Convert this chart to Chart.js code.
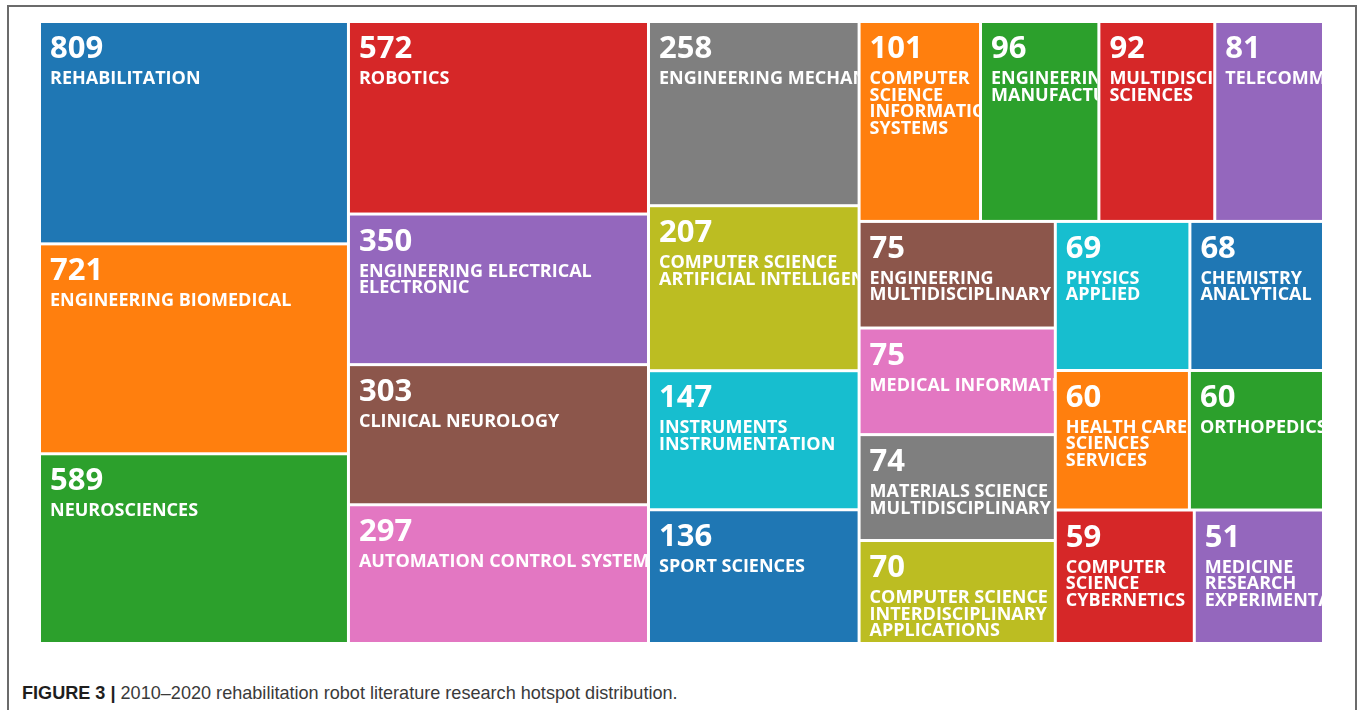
<!DOCTYPE html>
<html lang="en">
<head>
<meta charset="UTF-8">
<title>Rehabilitation robot research hotspots</title>
<script src="https://cdn.jsdelivr.net/npm/chart.js"></script>
<style>
  body { margin: 0; background: #ffffff; }
  .frame { position: relative; width: 1357px; height: 710px; overflow: hidden; }
  .border { position: absolute; left: 7px; top: 5px; width: 1346px; height: 760px; border: 2px solid #6b6b6b; }
  #wrap { position: absolute; left: 0; top: 0; width: 1357px; height: 660px; }
  .caption {
    position: absolute; left: 22px; top: 683px;
    font-family: 'Liberation Sans', Arial, sans-serif;
    font-size: 19px; line-height: 19px; color: #3a3a3a; white-space: nowrap;
    transform: scaleX(0.952); transform-origin: left top;
  }
  .caption b { color: #1e1e1e; }
</style>
</head>
<body>
<div class="frame">
  <div class="border"></div>
  <div id="wrap"><canvas id="treemap" width="1357" height="660"></canvas></div>
  <div class="caption"><b>FIGURE 3 |</b> 2010–2020 rehabilitation robot literature research hotspot distribution.</div>
</div>

<script>
  // Web of Science categories, label lines as they wrap in the figure
  const categories = [
    ['REHABILITATION'],
    ['ENGINEERING BIOMEDICAL'],
    ['NEUROSCIENCES'],
    ['ROBOTICS'],
    ['ENGINEERING ELECTRICAL', 'ELECTRONIC'],
    ['CLINICAL NEUROLOGY'],
    ['AUTOMATION CONTROL SYSTEMS'],
    ['ENGINEERING MECHANICAL'],
    ['COMPUTER SCIENCE', 'ARTIFICIAL INTELLIGENCE'],
    ['INSTRUMENTS', 'INSTRUMENTATION'],
    ['SPORT SCIENCES'],
    ['COMPUTER', 'SCIENCE', 'INFORMATION', 'SYSTEMS'],
    ['ENGINEERING', 'MANUFACTURING'],
    ['MULTIDISCIPLINARY', 'SCIENCES'],
    ['TELECOMMUNICATIONS'],
    ['ENGINEERING', 'MULTIDISCIPLINARY'],
    ['MEDICAL INFORMATICS'],
    ['MATERIALS SCIENCE', 'MULTIDISCIPLINARY'],
    ['COMPUTER SCIENCE', 'INTERDISCIPLINARY', 'APPLICATIONS'],
    ['PHYSICS', 'APPLIED'],
    ['CHEMISTRY', 'ANALYTICAL'],
    ['HEALTH CARE', 'SCIENCES', 'SERVICES'],
    ['ORTHOPEDICS'],
    ['COMPUTER', 'SCIENCE', 'CYBERNETICS'],
    ['MEDICINE', 'RESEARCH', 'EXPERIMENTAL']
  ];
  const counts = [809, 721, 589, 572, 350, 303, 297, 258, 207, 147, 136,
                  101, 96, 92, 81, 75, 75, 74, 70, 69, 68, 60, 60, 59, 51];
  const palette = ['#1f77b4', '#ff7f0e', '#2ca02c', '#d62728', '#9467bd',
                   '#8c564b', '#e377c2', '#7f7f7f', '#bcbd22', '#17becf'];

  // how the tiles are grouped: 'h' = side by side, 'v' = stacked (numbers are indexes)
  const tileGroups = ['h',
    ['v', 0, 1, 2],
    ['v', 3, 4, 5, 6],
    ['v', 7, 8, 9, 10],
    ['v',
      ['h', 11, 12, 13, 14],
      ['h',
        ['v', 15, 16, 17, 18],
        ['v', ['h', 19, 20], ['h', 21, 22], ['h', 23, 24]]]]];

  // the figure does not size tiles linearly; square root of the count is close
  function tileWeight(node) {
    if (typeof node === 'number') return Math.sqrt(counts[node]);
    return node.slice(1).reduce((s, n) => s + tileWeight(n), 0);
  }

  function layout(node, x0, y0, x1, y1, out) {
    if (typeof node === 'number') {
      out[node] = { x0, y0, x1, y1 };
      return out;
    }
    const dir = node[0];
    const total = tileWeight(node);
    let pos = dir === 'h' ? x0 : y0;
    node.slice(1).forEach(k => {
      const span = (dir === 'h' ? x1 - x0 : y1 - y0) * tileWeight(k) / total;
      if (dir === 'h') layout(k, pos, y0, pos + span, y1, out);
      else layout(k, x0, pos, x1, pos + span, out);
      pos += span;
    });
    return out;
  }

  const tiles = layout(tileGroups, 0, 0, 1, 1, []);

  const treemapTiles = {
    id: 'treemapTiles',
    beforeDatasetsDraw(chart) {
      const { ctx, scales: { x, y } } = chart;
      tiles.forEach((t, i) => {
        const left = x.getPixelForValue(t.x0) + 1.5;
        const right = x.getPixelForValue(t.x1) - 1.5;
        const top = y.getPixelForValue(t.y0) + 1.5;
        const bottom = y.getPixelForValue(t.y1) - 1.5;
        ctx.save();
        ctx.fillStyle = palette[i % palette.length];
        ctx.fillRect(left, top, right - left, bottom - top);
        ctx.beginPath();
        ctx.rect(left, top, right - left, bottom - top);
        ctx.clip();
        ctx.fillStyle = '#ffffff';
        ctx.textBaseline = 'alphabetic';
        ctx.font = '700 31px "Open Sans"';
        ctx.fillText(String(counts[i]), left + 9, top + 35);
        ctx.font = '700 18px "Open Sans"';
        categories[i].forEach((line, j) => {
          ctx.fillText(line, left + 9, top + 61 + j * 16.5);
        });
        ctx.restore();
      });
    }
  };

  new Chart(document.getElementById('treemap'), {
    type: 'scatter',
    data: {
      datasets: [{
        label: 'Publications',
        data: tiles.map((t, i) => ({ x: (t.x0 + t.x1) / 2, y: (t.y0 + t.y1) / 2, v: counts[i] })),
        pointRadius: 0
      }]
    },
    options: {
      responsive: false,
      animation: false,
      layout: { padding: { left: 39.5, right: 33.5, top: 21.5, bottom: 16.5 } },
      scales: {
        x: { type: 'linear', min: 0, max: 1, display: false },
        y: { type: 'linear', min: 0, max: 1, reverse: true, display: false }
      },
      plugins: {
        legend: { display: false },
        tooltip: { enabled: false }
      }
    },
    plugins: [treemapTiles]
  });
</script>
</body>
</html>
